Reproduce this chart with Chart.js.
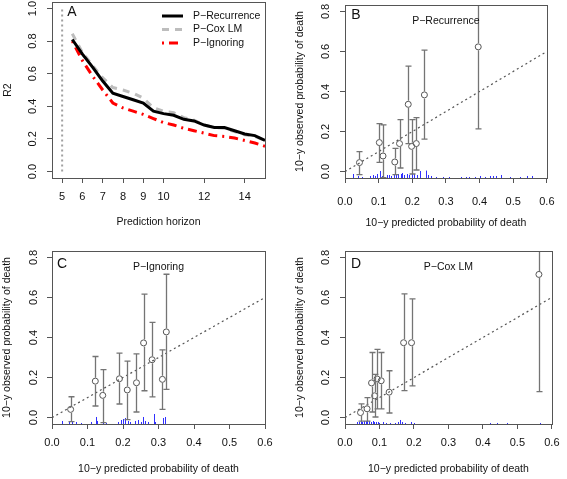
<!DOCTYPE html>
<html>
<head>
<meta charset="utf-8">
<script src="https://cdn.jsdelivr.net/npm/chart.js@4.4.1/dist/chart.umd.min.js"></script>
<style>
    body { margin: 0; background: #fff; }
    #area { position: relative; width: 567px; height: 479px; }
    canvas { position: absolute; }
</style>
</head>
<body>
<div id="area">
    <canvas id="painel-a" width="283" height="240" style="left:0;top:0"></canvas>
    <canvas id="painel-b" width="284" height="240" style="left:283px;top:0"></canvas>
    <canvas id="painel-c" width="283" height="239" style="left:0;top:240px"></canvas>
    <canvas id="painel-d" width="284" height="239" style="left:283px;top:240px"></canvas>
</div>
<script>
// Painel A: R2 por horizonte de predicao
const horizonte     = [5.5, 6, 6.5, 7, 7.5, 8, 8.5, 9, 9.5, 10, 10.5, 11, 11.5, 12, 12.5, 13, 13.5, 14, 14.5, 15];
const r2_recurrence = [0.81, 0.72, 0.64, 0.555, 0.48, 0.46, 0.44, 0.42, 0.37, 0.355, 0.345, 0.32, 0.31, 0.285, 0.27, 0.27, 0.25, 0.23, 0.22, 0.19];
const r2_coxlm      = [0.845, 0.73, 0.65, 0.575, 0.515, 0.50, 0.48, 0.45, 0.39, 0.37, 0.36, 0.33, 0.315, 0.285, 0.27, 0.265, 0.245, 0.225, 0.215, 0.19];
const r2_ignoring   = [0.80, 0.68, 0.585, 0.50, 0.42, 0.39, 0.37, 0.35, 0.325, 0.30, 0.285, 0.265, 0.25, 0.235, 0.22, 0.215, 0.205, 0.19, 0.175, 0.155];
const ticks_horizonte = [5, 6, 7, 8, 9, 10, 12, 14];
const ticks_r2        = [0, 0.2, 0.4, 0.6, 0.8, 1.0];

// Paineis B, C, D: calibracao
const ticks_prob_x = [0, 0.1, 0.2, 0.3, 0.4, 0.5, 0.6];
const ticks_prob_y = [0, 0.2, 0.4, 0.6, 0.8];
const diagonal     = [0, 0.6];

const rec_pred = [0.043, 0.102, 0.113, 0.148, 0.162, 0.188, 0.198, 0.212, 0.236, 0.396];
const rec_obs  = [0.045, 0.145, 0.078, 0.048, 0.14, 0.336, 0.126, 0.14, 0.383, 0.623];
const rec_low  = [-0.015, 0.046, -0.03, -0.015, 0.018, 0.14, -0.012, 0.008, 0.162, 0.213];
const rec_high = [0.10, 0.24, 0.233, 0.116, 0.26, 0.527, 0.26, 0.27, 0.607, 0.95];
const rec_spk_x = [0.023, 0.04, 0.05, 0.075, 0.082, 0.088, 0.095, 0.105, 0.11, 0.125, 0.13, 0.138, 0.145, 0.152, 0.158, 0.165, 0.17, 0.175, 0.183, 0.19, 0.198, 0.205, 0.215, 0.222, 0.24, 0.247, 0.256, 0.27, 0.29, 0.31, 0.345, 0.36, 0.37, 0.385, 0.40, 0.415, 0.43, 0.44, 0.45, 0.465, 0.49, 0.52, 0.54, 0.555];
const rec_spk_h = [0.02, 0.01, 0.005, 0.01, 0.015, 0.01, 0.02, 0.035, 0.01, 0.015, 0.015, 0.01, 0.02, 0.015, 0.02, 0.02, 0.025, 0.015, 0.02, 0.015, 0.055, 0.02, 0.015, 0.035, 0.037, 0.015, 0.01, 0.005, 0.005, 0.005, 0.005, 0.005, 0.005, 0.005, 0.01, 0.005, 0.01, 0.01, 0.01, 0.015, 0.005, 0.005, 0.01, 0.01];

const ign_pred = [0.0525, 0.122, 0.143, 0.19, 0.212, 0.238, 0.258, 0.282, 0.311, 0.322];
const ign_obs  = [0.041, 0.182, 0.111, 0.194, 0.138, 0.174, 0.373, 0.289, 0.191, 0.428];
const ign_low  = [-0.02, 0.058, -0.025, 0.068, -0.01, 0.028, 0.134, 0.103, 0.041, 0.141];
const ign_high = [0.104, 0.305, 0.24, 0.322, 0.282, 0.318, 0.617, 0.476, 0.338, 0.716];
const ign_spk_x = [0.028, 0.047, 0.056, 0.068, 0.083, 0.111, 0.123, 0.128, 0.144, 0.153, 0.186, 0.193, 0.2, 0.206, 0.214, 0.221, 0.235, 0.242, 0.25, 0.255, 0.263, 0.27, 0.287, 0.291, 0.312, 0.319];
const ign_spk_h = [0.015, 0.01, 0.01, 0.01, 0.005, 0.01, 0.035, 0.015, 0.005, 0.005, 0.01, 0.02, 0.025, 0.03, 0.015, 0.01, 0.015, 0.02, 0.01, 0.035, 0.015, 0.01, 0.05, 0.01, 0.03, 0.035];

const cox_pred = [0.045, 0.064, 0.077, 0.086, 0.093, 0.105, 0.128, 0.17, 0.193, 0.5625];
const cox_obs  = [0.025, 0.044, 0.173, 0.109, 0.193, 0.184, 0.127, 0.374, 0.374, 0.715];
const cox_low  = [-0.018, -0.018, 0.028, 0.003, 0.044, 0.044, 0.023, 0.135, 0.158, 0.13];
const cox_high = [0.069, 0.10, 0.325, 0.216, 0.341, 0.325, 0.234, 0.618, 0.593, 0.95];
const cox_spk_x = [0.035, 0.04, 0.045, 0.05, 0.055, 0.06, 0.065, 0.07, 0.075, 0.08, 0.085, 0.09, 0.095, 0.10, 0.11, 0.12, 0.13, 0.145, 0.155, 0.16, 0.165, 0.175, 0.19, 0.2, 0.42, 0.44, 0.47, 0.565];
const cox_spk_h = [0.01, 0.01, 0.015, 0.01, 0.015, 0.015, 0.025, 0.015, 0.01, 0.015, 0.01, 0.01, 0.01, 0.005, 0.01, 0.005, 0.005, 0.005, 0.01, 0.02, 0.01, 0.005, 0.01, 0.005, 0.005, 0.005, 0.005, 0.005];

const fonte = "'Liberation Sans', Arial, sans-serif";
const cor_texto = '#111';

const painel_plugin = {
    id: 'painel',
    beforeDatasetsDraw(chart, args, opts) {
        if (!opts.espinhos) return;
        const { ctx, scales } = chart;
        const [xs, hs] = opts.espinhos;
        const base = scales.y.min;
        ctx.save();
        ctx.strokeStyle = '#3030ff';
        ctx.lineWidth = 1;
        ctx.beginPath();
        xs.forEach((v, i) => {
            const px = Math.round(scales.x.getPixelForValue(v)) + 0.5;
            ctx.moveTo(px, scales.y.getPixelForValue(base));
            ctx.lineTo(px, scales.y.getPixelForValue(base + hs[i]));
        });
        ctx.stroke();
        ctx.restore();
    },
    afterDatasetsDraw(chart, args, opts) {
        const { ctx, chartArea: a, scales } = chart;

        // barras de erro com folga em volta do circulo
        if (opts.barras) {
            const [xs, ys, lo, hi] = opts.barras;
            ctx.save();
            ctx.beginPath();
            ctx.rect(a.left, a.top, a.right - a.left, a.bottom - a.top);
            ctx.clip();
            ctx.strokeStyle = '#747474';
            ctx.lineWidth = 1.3;
            ctx.beginPath();
            xs.forEach((v, i) => {
                const cx = Math.round(scales.x.getPixelForValue(v)) + 0.5;
                const cy = scales.y.getPixelForValue(ys[i]);
                const yl = scales.y.getPixelForValue(lo[i]);
                const yh = scales.y.getPixelForValue(hi[i]);
                if (yh < cy - 3.5) {
                    ctx.moveTo(cx, cy - 3.5); ctx.lineTo(cx, yh);
                    ctx.moveTo(cx - 3, yh); ctx.lineTo(cx + 3, yh);
                }
                if (yl > cy + 3.5) {
                    ctx.moveTo(cx, cy + 3.5); ctx.lineTo(cx, yl);
                    ctx.moveTo(cx - 3, yl); ctx.lineTo(cx + 3, yl);
                }
            });
            ctx.stroke();
            ctx.restore();
        }

        ctx.save();
        // moldura
        ctx.strokeStyle = '#555';
        ctx.lineWidth = 1;
        ctx.strokeRect(Math.round(a.left) + 0.5, Math.round(a.top) + 0.5,
                       Math.round(a.right - a.left), Math.round(a.bottom - a.top));

        // rotulos do eixo y na vertical, como no R
        ctx.fillStyle = cor_texto;
        ctx.font = '11px ' + fonte;
        ctx.textAlign = 'center';
        ctx.textBaseline = 'middle';
        scales.y.ticks.forEach(t => {
            ctx.save();
            ctx.translate(opts.xRotulosY, scales.y.getPixelForValue(t.value));
            ctx.rotate(-Math.PI / 2);
            ctx.fillText(t.value.toFixed(1), 0, 0);
            ctx.restore();
        });

        // letra do painel
        ctx.font = '14px ' + fonte;
        ctx.fillText(opts.letra, a.left + opts.posLetra[0], a.top + opts.posLetra[1]);

        // subtitulo
        if (opts.subtitulo) {
            ctx.font = '10.5px ' + fonte;
            ctx.fillText(opts.subtitulo, scales.x.getPixelForValue(0.3), scales.y.getPixelForValue(0.75));
        }

        // legenda (painel A)
        if (opts.legenda) {
            const [lx, ly, passo] = opts.legenda;
            ctx.textAlign = 'left';
            ctx.font = '10.5px ' + fonte;
            chart.data.datasets.filter(d => d.label).forEach((d, i) => {
                const y = ly + i * passo;
                ctx.save();
                ctx.strokeStyle = d.borderColor;
                ctx.lineWidth = d.borderWidth;
                ctx.setLineDash(d.borderDash || []);
                ctx.beginPath();
                ctx.moveTo(lx, y);
                ctx.lineTo(lx + 21, y);
                ctx.stroke();
                ctx.restore();
                ctx.fillText(d.label, lx + 31, y);
            });
        }
        ctx.restore();
    }
};

function escalas(cfg) {
    return {
        x: {
            type: 'linear',
            min: cfg.xmin,
            max: cfg.xmax,
            afterFit: s => { s.height = cfg.alturaX; },
            afterBuildTicks: s => { s.ticks = cfg.ticksX.map(v => ({ value: v })); },
            grid: { drawOnChartArea: false, drawTicks: true, tickLength: 5, color: '#555' },
            border: { display: false },
            ticks: {
                padding: cfg.padX,
                color: cor_texto,
                autoSkip: false,
                maxRotation: 0,
                font: { family: fonte, size: 11 },
                callback: cfg.formatoX
            },
            title: {
                display: true,
                text: cfg.tituloX,
                color: cor_texto,
                font: { family: fonte, size: 10.5, lineHeight: 1 },
                padding: { top: 0, bottom: cfg.padTituloX }
            }
        },
        y: {
            type: 'linear',
            min: cfg.ymin,
            max: cfg.ymax,
            afterFit: s => { s.width = cfg.larguraY; },
            afterBuildTicks: s => { s.ticks = cfg.ticksY.map(v => ({ value: v })); },
            grid: { drawOnChartArea: false, drawTicks: true, tickLength: 5, color: '#555' },
            border: { display: false },
            ticks: { display: false },
            title: {
                display: true,
                text: cfg.tituloY,
                color: cor_texto,
                font: { family: fonte, size: 10.5, lineHeight: 1 },
                padding: { top: cfg.padTituloY, bottom: 0 }
            }
        }
    };
}

function criar_painel(id, datasets, cfg, extras) {
    return new Chart(document.getElementById(id), {
        type: 'scatter',
        data: { datasets },
        options: {
            responsive: false,
            animation: false,
            devicePixelRatio: 1,
            layout: { padding: { top: cfg.topo, right: cfg.direita, left: 0, bottom: 0 } },
            scales: escalas(cfg),
            plugins: {
                legend: { display: false },
                tooltip: { enabled: false },
                painel: extras
            }
        },
        plugins: [painel_plugin]
    });
}

function pares(xs, ys) {
    return xs.map((x, i) => ({ x, y: ys[i] }));
}

function linha(label, xs, ys, cor, largura, traco) {
    return {
        label,
        data: pares(xs, ys),
        showLine: true,
        borderColor: cor,
        borderWidth: largura,
        borderDash: traco,
        pointRadius: 0,
        fill: false
    };
}

// Painel A
criar_painel('painel-a', [
    linha('', [5, 5], [0, 1], '#a0a0a0', 2, [2, 3]),
    linha('P\u2212Recurrence', horizonte, r2_recurrence, '#000', 3, []),
    linha('P\u2212Cox LM', horizonte, r2_coxlm, '#bdbdbd', 3, [7, 6]),
    linha('P\u2212Ignoring', horizonte, r2_ignoring, '#ff0000', 3, [2, 5, 9, 5])
], {
    xmin: 4.5, xmax: 15, ymin: -0.04, ymax: 1.04,
    ticksX: ticks_horizonte, ticksY: ticks_r2,
    formatoX: v => String(v),
    tituloX: 'Prediction horizon', tituloY: 'R2',
    topo: 2, direita: 18, larguraY: 52, alturaX: 62,
    padX: 7, padTituloX: 12.5, padTituloY: 2.5
}, {
    letra: 'A', posLetra: [20, 10], xRotulosY: 33,
    legenda: [162, 16, 13.5]
});

function calibracao(id, pred, obs, low, high, spk_x, spk_h, titulo, letra, cfg, posLetra, xRotulosY) {
    criar_painel(id, [
        linha('', diagonal, diagonal, '#555', 1.2, [2, 3]),
        {
            data: pares(pred, obs),
            showLine: false,
            pointRadius: 3,
            pointBorderWidth: 1,
            pointBorderColor: '#555',
            pointBackgroundColor: 'rgba(0,0,0,0)'
        }
    ], Object.assign({
        xmin: 0, xmax: 0.6, ymin: -0.032, ymax: 0.832,
        ticksX: ticks_prob_x, ticksY: ticks_prob_y,
        formatoX: v => v.toFixed(1),
        tituloX: '10\u2212y predicted probability of death',
        tituloY: '10\u2212y observed probability of death'
    }, cfg), {
        letra, posLetra, xRotulosY,
        subtitulo: titulo,
        barras: [pred, obs, low, high],
        espinhos: [spk_x, spk_h]
    });
}

calibracao('painel-b', rec_pred, rec_obs, rec_low, rec_high, rec_spk_x, rec_spk_h, 'P\u2212Recurrence', 'B',
    { topo: 4, direita: 10, larguraY: 62, alturaX: 62, padX: 12.5, padTituloX: 11.5, padTituloY: 12 },
    [11, 10], 43);

calibracao('painel-c', ign_pred, ign_obs, ign_low, ign_high, ign_spk_x, ign_spk_h, 'P\u2212Ignoring', 'C',
    { topo: 11, direita: 18, larguraY: 52, alturaX: 55, padX: 7, padTituloX: 4.5, padTituloY: 1.5 },
    [10, 13], 34);

calibracao('painel-d', cox_pred, cox_obs, cox_low, cox_high, cox_spk_x, cox_spk_h, 'P\u2212Cox LM', 'D',
    { topo: 11, direita: 10, larguraY: 62, alturaX: 55, padX: 7.5, padTituloX: 4.5, padTituloY: 11.5 },
    [11, 13], 43);
</script>
</body>
</html>
